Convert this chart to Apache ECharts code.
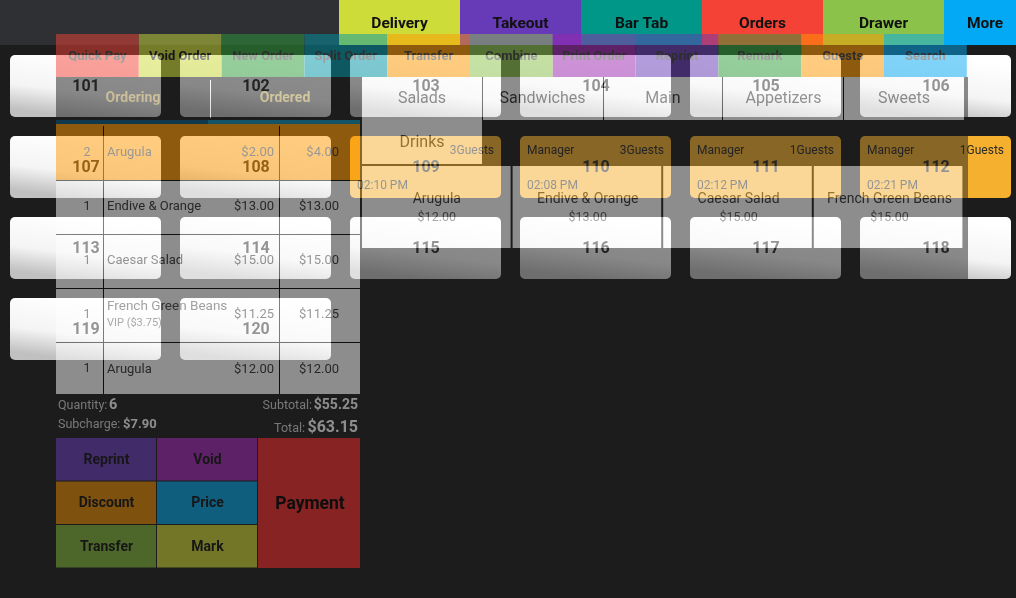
<!DOCTYPE html>
<html>
<head>
<meta charset="utf-8">
<title>POS tables</title>
<style>
  html, body { margin: 0; background: #1c1c1c; overflow: hidden; }
  #base, #panel { position: absolute; left: 0; top: 0; width: 1016px; height: 598px; }
  /* the order screen is a half see-through picture laid over the table screen */
  #panel { opacity: 0.5; }
</style>
<script src="https://cdn.jsdelivr.net/npm/echarts@6/dist/echarts.min.js"></script>
</head>
<body>
<div id="base"></div>
<div id="panel"></div>
<script>
var tabNames = ['Delivery', 'Takeout', 'Bar Tab', 'Orders', 'Drawer', 'More']
var tabColors = ['#cddc39', '#673ab7', '#009688', '#f44336', '#8bc34a', '#03a9f4']

var tableNumbers = [101, 102, 103, 104, 105, 106, 107, 108, 109, 110, 111, 112, 113, 114, 115, 116, 117, 118, 119, 120]
var tableManagers = { 110: 'Manager', 111: 'Manager', 112: 'Manager' }
var tableGuests = { 109: '3Guests', 110: '3Guests', 111: '1Guests', 112: '1Guests' }
var tableTimes = { 109: '02:10 PM', 110: '02:08 PM', 111: '02:12 PM', 112: '02:21 PM' }

var actionNames = ['Quick Pay', 'Void Order', 'New Order', 'Split Order', 'Transfer', 'Combine', 'Print Order', 'Reprint', 'Remark', 'Guests', 'Search']
var actionColors = ['#f44336', '#cddc39', '#2e9e3a', '#0097a7', '#ff9800', '#8bc34a', '#9c27b0', '#673ab7', '#2e9e3a', '#ff9800', '#03a9f4']

var orderQty = ['2', '1', '1', '1', '1']
var orderNames = ['Arugula', 'Endive & Orange', 'Caesar Salad', 'French Green Beans', 'Arugula']
var orderPrices = ['$2.00', '$13.00', '$15.00', '$11.25', '$12.00']
var orderTotals = ['$4.00', '$13.00', '$15.00', '$11.25', '$12.00']

var categoryNames = ['Salads', 'Sandwiches', 'Main', 'Appetizers', 'Sweets']
var itemNames = ['Arugula', 'Endive & Orange', 'Caesar Salad', 'French Green Beans']
var itemPrices = ['$12.00', '$13.00', '$15.00', '$15.00']

var footNames = ['Reprint', 'Void', 'Discount', 'Price', 'Transfer', 'Mark']
var footColors = ['#673ab7', '#9c27b0', '#e08600', '#03a0e0', '#7fb238', '#c8d030']

var FONT = 'Roboto, "Noto Sans", sans-serif'

function box(x, y, w, h, fill, z) {
  return { type: 'rect', z: z || 1, silent: true, shape: { x: x, y: y, width: w, height: h }, style: { fill: fill } }
}
function label(text, x, y, font, fill, align, z) {
  return {
    type: 'text', z: z || 5, silent: true,
    style: { text: text, x: x, y: y + 1.5, font: font + ' ' + FONT, fill: fill, align: align || 'center', verticalAlign: 'middle' }
  }
}

function renderTable(params, api) {
  var p = api.coord([api.value(0), api.value(1)])
  var s = api.size([1, 1])
  var w = s[0] - 19, h = s[1] - 19
  var x = p[0] - w / 2, y = p[1] - h / 2
  var num = tableNumbers[params.dataIndex]
  var busy = !!tableGuests[num]
  var fill = busy ? '#f5b030' : {
    type: 'linear', x: 0.5, y: 0, x2: 0.45, y2: 1,
    colorStops: [{ offset: 0, color: '#ffffff' }, { offset: 0.6, color: '#f4f4f4' }, { offset: 1, color: '#c0c0c0' }]
  }
  var kids = [{ type: 'rect', shape: { x: x, y: y, width: w, height: h, r: 5 }, style: { fill: fill } }]
  function add(t, tx, ty, font, align) {
    kids.push({
      type: 'text',
      style: { text: t, x: tx, y: ty, font: font + ' ' + FONT, fill: '#2a2a2a', align: align, verticalAlign: 'middle' }
    })
  }
  add(String(num), p[0] + 0.5, p[1] + 1, 'bold 16px', 'center')
  if (busy) {
    if (tableManagers[num]) add(tableManagers[num], x + 7, y + 15, '12px', 'left')
    add(tableGuests[num], x + w - 7, y + 15, '12px', 'right')
    add(tableTimes[num], x + 7, y + 50, '12px', 'left')
  }
  return { type: 'group', children: kids }
}

// table screen
var baseGraphic = [box(0, 0, 1016, 45, '#2e3034')]
tabNames.forEach(function (name, i) {
  var w = 121, x = 339 + i * w
  baseGraphic.push(box(x, 0, i == 5 ? 1016 - x : w, 45, tabColors[i]))
  baseGraphic.push(label(name, i == 5 ? 985 : x + w / 2, 22.5, 'bold 15.5px', '#111'))
})

var base = echarts.init(document.getElementById('base'), null, { width: 1016, height: 598 })
base.setOption({
  animation: false,
  backgroundColor: '#1c1c1c',
  grid: { left: 0, right: 0, top: 45.5, height: 324 },
  // columns are 170px wide and run off the right edge of the window
  xAxis: { type: 'value', show: false, min: -85.5 / 170, max: 930.5 / 170 },
  yAxis: { type: 'category', show: false, inverse: true, data: [0, 1, 2, 3] },
  graphic: baseGraphic,
  series: [{
    type: 'custom',
    z: 3,
    clip: false,
    silent: true,
    renderItem: renderTable,
    data: tableNumbers.map(function (n, i) { return [i % 6, Math.floor(i / 6), n] })
  }]
})

// order screen
var g = [box(56, 77, 912, 491, '#1c1c1c', 0)]

actionNames.forEach(function (name, i) {
  var w = 82.8, x = 56 + i * w
  g.push(box(x, 34, w, 43, actionColors[i]))
  g.push(label(name, x + w / 2, 55, 'bold 13px', i == 1 ? '#111' : '#3f3f3f'))
})

g.push(label('Ordering', 133, 97, 'bold 14px', '#a08a40'))
g.push(label('Ordered', 285, 97, 'bold 14px', '#b09a48'))
g.push(box(210, 80, 1, 38, '#ffffff'))

g.push(box(56, 120, 152, 4, '#04567f'))
g.push(box(208, 120, 152, 4, '#0a8fb0'))
g.push(box(56, 124, 304, 270, '#ffffff'))
g.push(box(56, 124, 304, 56, '#ff9800'))
;[180, 234, 288, 342].forEach(function (y) { g.push(box(56, y, 304, 1, '#000')) })
;[103, 279].forEach(function (x) { g.push(box(x, 126, 1, 268, '#000')) })

orderNames.forEach(function (name, i) {
  var y = 151 + i * 54.2
  g.push(label(orderQty[i], 87, y, '12.5px', '#333'))
  if (i == 3) {
    g.push(label(name, 107, y - 8, '13.5px', '#444', 'left'))
    g.push(label('VIP ($3.75)', 107, y + 8, '11px', '#555', 'left'))
  } else {
    g.push(label(name, 107, y, '13px', '#333', 'left'))
  }
  g.push(label(orderPrices[i], 274, y, '13px', '#333', 'right'))
  g.push(label(orderTotals[i], 339, y, '13px', '#333', 'right'))
})

g.push(label('Quantity:', 58, 404, '12.5px', '#d4d4d4', 'left'))
g.push(label('6', 109, 404, 'bold 14.5px', '#fff', 'left'))
g.push(label('Subcharge:', 58, 423, '12.5px', '#d4d4d4', 'left'))
g.push(label('$7.90', 123, 423, 'bold 13px', '#fff', 'left'))
g.push(label('Subtotal:', 312, 404, '12.5px', '#d4d4d4', 'right'))
g.push(label('$55.25', 358, 404, 'bold 14px', '#fff', 'right'))
g.push(label('Total:', 305, 427, '12.5px', '#d4d4d4', 'right'))
g.push(label('$63.15', 358, 426, 'bold 16px', '#fff', 'right'))

footNames.forEach(function (name, i) {
  var col = i % 2, row = Math.floor(i / 2)
  var x = 56 + col * 101, y = 438 + row * 43.5
  g.push(box(x, y, 100, 42.5, footColors[i]))
  g.push(label(name, x + 50.5, y + 20.5, 'bold 14px', '#111'))
})
g.push(box(258, 438, 102, 130, '#f32a2a'))
g.push(label('Payment', 310, 503, 'bold 17.5px', '#000'))

g.push(box(362, 77, 602, 43, '#ffffff'))
;[482, 603, 722, 843].forEach(function (x) { g.push(box(x, 77, 1, 43, '#000')) })
categoryNames.forEach(function (name, i) {
  g.push(label(name, 422 + i * 120.5, 97.5, '16px', '#333'))
})
g.push(box(362, 120, 120, 44, '#ffffff'))
g.push(label('Drinks', 422, 141, '16px', '#333'))

itemNames.forEach(function (name, i) {
  var w = 150.6, x = 362 + i * w
  g.push(box(x, 166, w - 2, 82, '#ffffff'))
  g.push(label(name, x + w / 2 - 0.5 + i * 0.3, 198, '14px', '#333'))
  g.push(label(itemPrices[i], x + w / 2 - 0.5 + i * 0.3, 216, '12.5px', '#555'))
})

var panel = echarts.init(document.getElementById('panel'), null, { width: 1016, height: 598 })
panel.setOption({ animation: false, backgroundColor: 'transparent', graphic: g })
</script>
</body>
</html>
